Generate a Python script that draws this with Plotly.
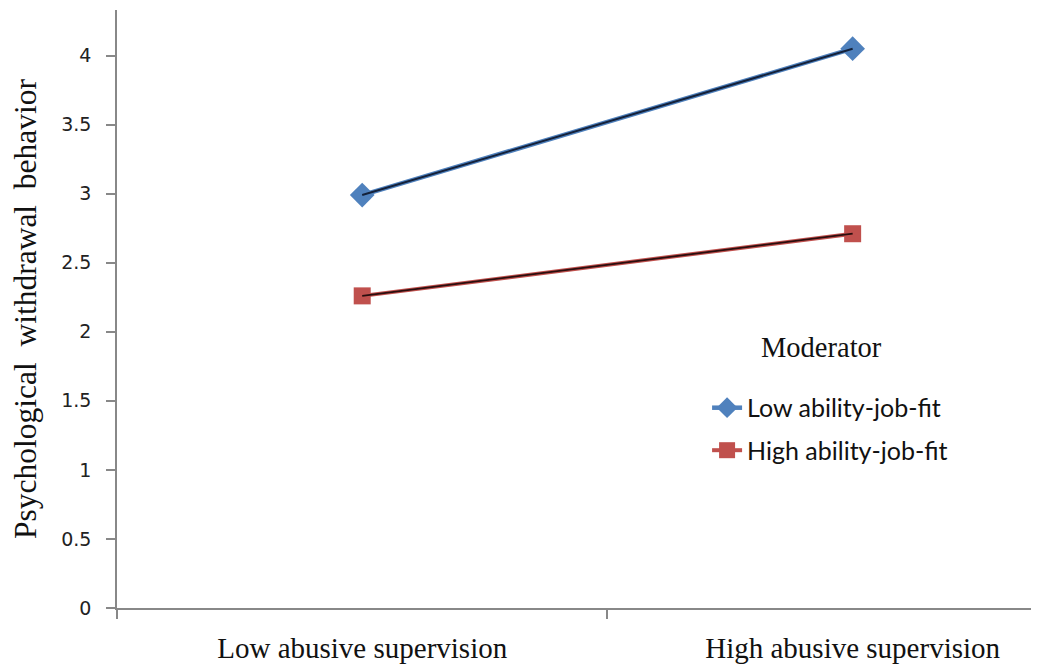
import plotly.graph_objects as go

categories = ["Low abusive supervision", "High abusive supervision"]
low_fit = [2.99, 4.05]
high_fit = [2.26, 2.71]
series_names = ["Low ability-job-fit", "High ability-job-fit"]
legend_title = "Moderator"
y_ticks = [0, 0.5, 1, 1.5, 2, 2.5, 3, 3.5, 4]
y_ticktext = ["0", "0.5", "1", "1.5", "2", "2.5", "3", "3.5", "4"]

fig = go.Figure()

# Low ability-job-fit: blue outline line with diamond markers, dark core
fig.add_trace(go.Scatter(
    x=categories, y=low_fit, name=series_names[0], mode="lines+markers",
    line=dict(color="#4F81BD", width=4.5),
    marker=dict(symbol="diamond", size=19, color="#4F81BD"),
    legendgroup="a",
))
fig.add_trace(go.Scatter(
    x=categories, y=low_fit, mode="lines", showlegend=False,
    line=dict(color="#14213A", width=2), hoverinfo="skip", legendgroup="a",
))
# High ability-job-fit: red outline line with square markers, dark core
fig.add_trace(go.Scatter(
    x=categories, y=high_fit, name=series_names[1], mode="lines+markers",
    line=dict(color="#C0504D", width=4),
    marker=dict(symbol="square", size=17, color="#C0504D"),
    legendgroup="b",
))
fig.add_trace(go.Scatter(
    x=categories, y=high_fit, mode="lines", showlegend=False,
    line=dict(color="#2A0E0E", width=1.8), hoverinfo="skip", legendgroup="b",
))

serif = "Liberation Serif, Times New Roman, serif"

# The page body has an 8px default margin, so the figure is sized to fit.
fig.update_layout(
    width=1031, height=656,
    margin=dict(l=109, r=0, t=2, b=56, autoexpand=False),
    paper_bgcolor="white", plot_bgcolor="white",
    showlegend=True,
    legend=dict(
        x=0.64, y=0.373, xanchor="left", yanchor="top",
        font=dict(family="Lato, Carlito, sans-serif", size=25, color="#111"),
        traceorder="grouped", tracegroupgap=7,
        bgcolor="rgba(0,0,0,0)",
    ),
    annotations=[dict(
        text=legend_title, x=0.7646, y=0.435, xref="paper", yref="paper",
        xanchor="center", yanchor="middle", showarrow=False,
        font=dict(family=serif, size=28.5, color="#111"),
    )],
    xaxis=dict(
        type="category", range=[-0.5, 1.38], automargin=False,
        showgrid=False, zeroline=False,
        showline=True, linecolor="#888888", linewidth=1.5,
        ticks="outside", ticklen=9, tickcolor="#888888", tickwidth=1.5,
        tickson="boundaries", ticklabelstandoff=13,
        tickfont=dict(family=serif, size=29, color="#111"),
    ),
    yaxis=dict(
        range=[0, 4.33], tickvals=y_ticks, ticktext=y_ticktext, automargin=False,
        showgrid=False, zeroline=False,
        showline=True, linecolor="#888888", linewidth=1.5,
        ticks="outside", ticklen=9, tickcolor="#888888", tickwidth=1.5,
        ticklabelstandoff=11,
        tickfont=dict(family="DejaVu Sans, sans-serif", size=19, color="#222"),
        title=dict(text="Psychological\u00a0\u00a0withdrawal\u00a0\u00a0behavior",
                   font=dict(family=serif, size=31.5, color="#111"), standoff=17),
    ),
)

fig.write_html("out.html")
